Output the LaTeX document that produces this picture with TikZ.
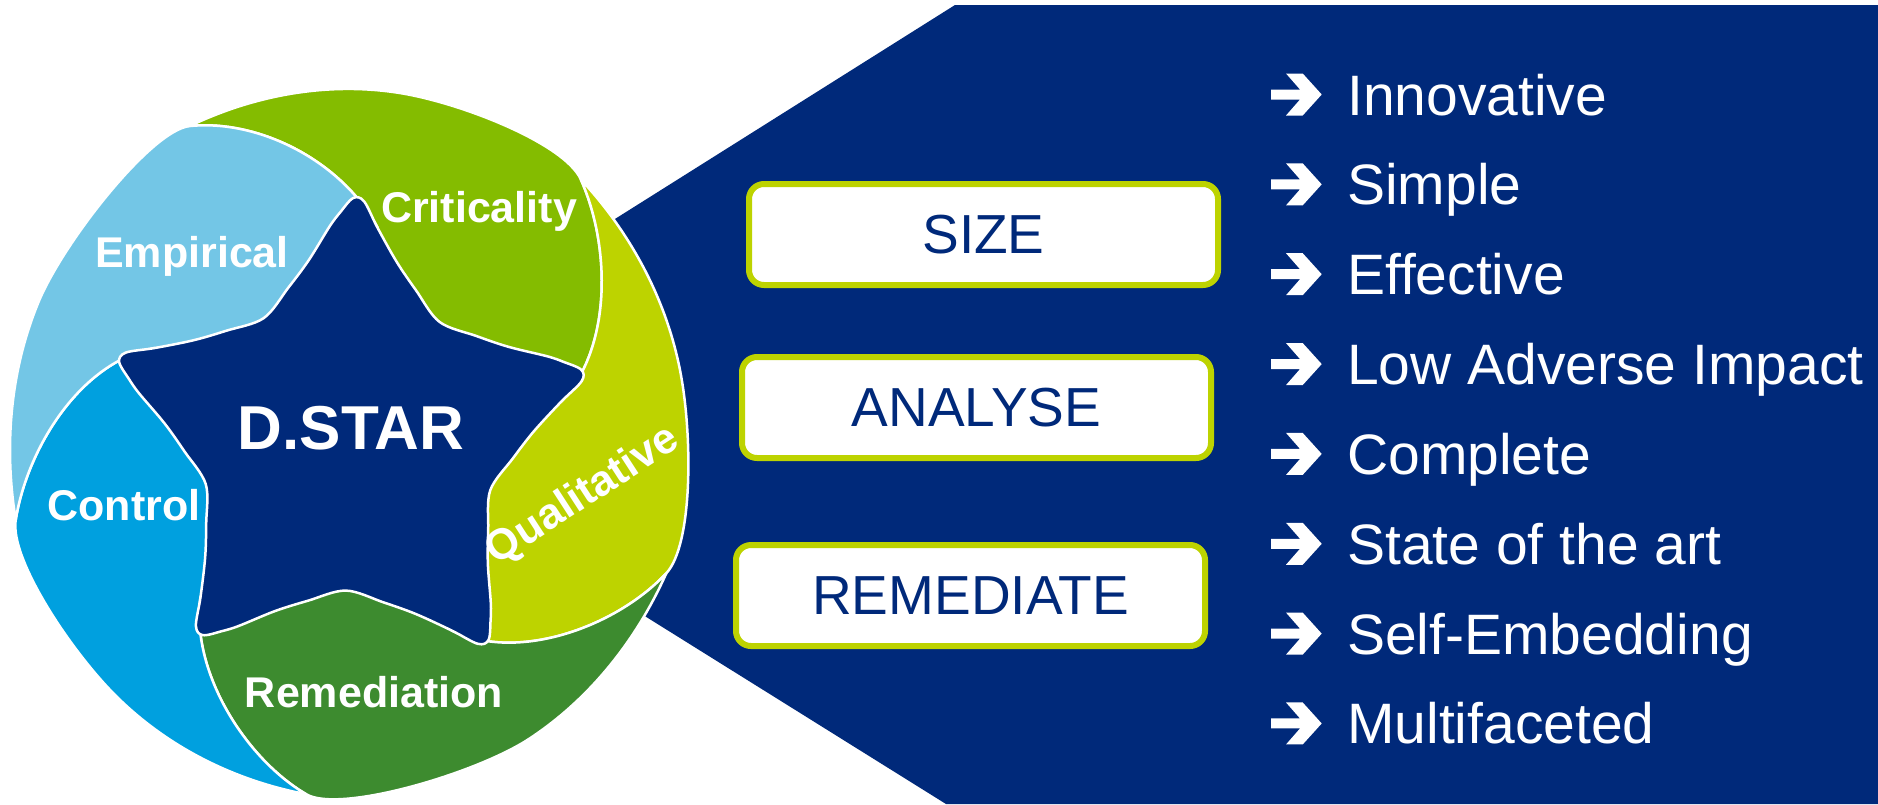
\documentclass[tikz,border=0pt]{standalone}
\usepackage{fontspec}
\setmainfont{Liberation Sans}
\definecolor{dblue}{HTML}{00297A}
\definecolor{crit}{HTML}{84BC00}
\definecolor{qual}{HTML}{BDD300}
\definecolor{remed}{HTML}{3D8B2F}
\definecolor{ctrl}{HTML}{00A0DF}
\definecolor{emp}{HTML}{73C6E6}
\definecolor{boxline}{HTML}{BDD300}
\begin{document}
\begin{tikzpicture}[x=1pt,y=1pt,line join=round,
  petal/.style={draw=white,line width=2.5pt},
  plabel/.style={text=white,font=\bfseries\fontsize{43}{43}\selectfont,inner sep=0pt},
  stepbox/.style={draw=boxline,line width=6pt,fill=white,rounded corners=15pt,minimum width=469pt,minimum height=101pt,inner sep=0pt,text=dblue,font=\fontsize{55}{55}\selectfont},
  item/.style={text=white,font=\fontsize{57}{57}\selectfont,inner sep=0pt,anchor=base west},
  arrowmark/.style={fill=white,draw=none}]
\useasboundingbox (0,0) rectangle (1878,-804);
\fill[white] (0,0) rectangle (1878,-804);
% background spotlight
\coordinate (C) at (349,-441);
\fill[dblue] (955,-5) -- (1878,-5) -- (1878,-804) -- (946,-804) -- (313,-409) -- cycle;
% key points of the pinwheel
\foreach \k/\dk in {0/0,1/1.5,2/4.4,3/1,4/3}{
  \path[shift={(349,-441)},rotate={-1.2-72*\k}] (24,214) coordinate (P0-\k) (-12.75,279.25) coordinate (P1-\k);
  \path[shift={(349,-441)},xscale=0.96,rotate={-1.2-72*\k+\dk}]
    (-100,320) coordinate (P2-\k) (-172.6,311.4) coordinate (E-\k)
    (-105.7,343.8) coordinate (A-\k) (-30.8,358.5) coordinate (B-\k)
    (42.9,349.4) coordinate (M-\k) (107.4,341.5) coordinate (D-\k);
  \path[shift={(349,-441)},xscale=0.96,rotate={-1.2-72*\k}]
    (226.0,296.6) coordinate (F-\k);
}
% adjust end controls so each petal meets the next S-curve smoothly
\foreach \k/\kk/\dk in {0/1/1.5,1/2/4.4,2/3/1,3/4/3,4/0/0}{
  \path[shift={(349,-441)},xscale=0.96,rotate={-1.2-72*\k+\dk}] (226.0,296.6) coordinate (F-\k);
}
% petals
\foreach \k/\kk/\col in {0/1/crit,1/2/qual,2/3/remed,3/4/ctrl,4/0/emp}{
  \path[fill=\col,petal] (P0-\k) .. controls (P1-\k) and (P2-\k) .. (E-\k)
    .. controls (A-\k) and (B-\k) .. (M-\k) .. controls (D-\k) and (F-\k) .. (E-\kk)
    .. controls (P2-\kk) and (P1-\kk) .. (P0-\kk) -- (C) -- cycle;
}
% star
\fill[dblue,draw=white,line width=2.5pt,shift={(349,-441)},rotate=-1.2] plot[smooth cycle,tension=0.55] coordinates {
(112.8:164.9) (103.74:185.3) (96.4:215.3) (93.51:228.4) (90.24:243) (87.61:240.2) (83.6:215.3) (76.26:185.3) (67.2:164.9) (53.97:149.6)
(40.8:164.9) (31.74:185.3) (24.4:215.3) (21.51:228.4) (18.24:243) (15.61:240.2) (11.6:215.3) (4.26:185.3) (-4.8:164.9) (-18.03:149.6)
(-31.2:164.9) (-40.26:185.3) (-47.6:215.3) (-50.49:228.4) (-53.76:243) (-56.39:240.2) (-60.4:215.3) (-67.74:185.3) (-76.8:164.9) (-90.03:149.6)
(-103.2:164.9) (-112.26:185.3) (-119.6:215.3) (-122.49:228.4) (-125.76:243) (-128.39:240.2) (-132.4:215.3) (-139.74:185.3) (-148.8:164.9) (-162.03:149.6)
(-175.2:164.9) (-184.26:185.3) (-191.6:215.3) (-194.49:228.4) (-197.76:243) (-200.39:240.2) (-204.4:215.3) (-211.74:185.3) (-220.8:164.9) (-234.03:149.6)};
% labels
\node[plabel,anchor=base] (lcrit) at (479,-222) {Criticality};
\node[plabel,anchor=base] (lemp) at (192,-267) {Empirical};
\node[plabel,anchor=base] (lctrl) at (124,-520) {Control};
\node[plabel,anchor=base] (lrem) at (374,-707) {Remediation};
\node[plabel,rotate=33] (lqual) at (583,-496) {Qualitative};
\node[text=white,font=\bfseries\fontsize{62}{62}\selectfont,anchor=base,inner sep=0pt] (dstar) at (351,-449) {D.STAR};
% boxes
\node[stepbox] (size) at (983.5,-234.5) {SIZE};
\node[stepbox] (analyse) at (976.5,-407.5) {ANALYSE};
\node[stepbox] (remediate) at (970.5,-595.5) {REMEDIATE};
% list
\foreach \i/\t in {0/Innovative,1/Simple,2/Effective,3/Low Adverse Impact,4/Complete,5/State of the art,6/Self-Embedding,7/Multifaceted}{
  \pgfmathsetmacro{\yy}{-(94.5+89.85*\i)}
  \fill[arrowmark,shift={(1271,\yy)}] (0,5) -- (29,5) -- (15,21) -- (31.7,21) -- (50.7,0) -- (31.7,-21) -- (15,-21) -- (29,-5) -- (0,-5) -- cycle;
  \node[item] (item\i) at (1347,\yy-20.5) {\t};
}
\end{tikzpicture}
\end{document}
